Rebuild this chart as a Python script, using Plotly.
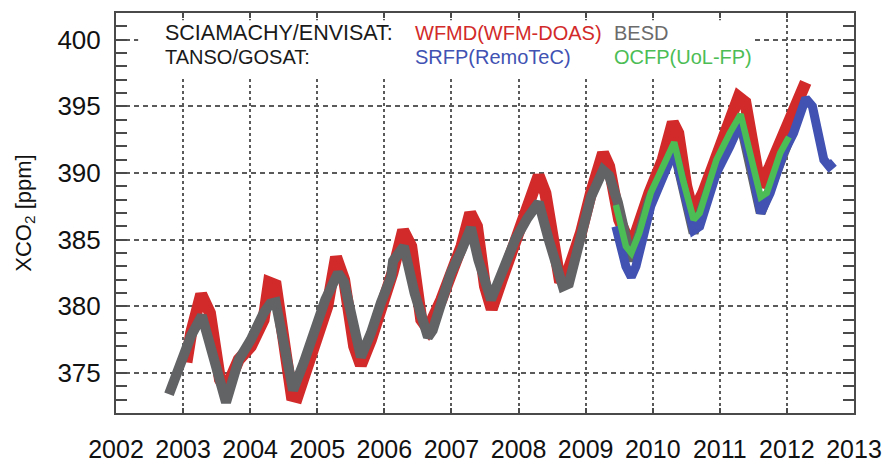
import plotly.graph_objects as go

# Monthly-ish XCO2 retrievals (decimal year, ppm)
besd_t = [2002.79, 2003.04, 2003.12, 2003.28, 2003.45, 2003.64, 2003.83, 2004.01, 2004.20, 2004.30,
          2004.38, 2004.50, 2004.64, 2004.80, 2004.95, 2005.12, 2005.31, 2005.40, 2005.65, 2005.80,
          2005.95, 2006.10, 2006.13, 2006.29, 2006.45, 2006.65, 2006.72, 2006.85, 2006.99, 2007.15,
          2007.29, 2007.40, 2007.59, 2007.75, 2007.95, 2008.13, 2008.30, 2008.45, 2008.66, 2008.75,
          2008.93, 2009.08, 2009.26, 2009.35, 2009.48, 2009.68, 2009.95, 2010.32, 2010.61, 2010.95,
          2011.31, 2011.61, 2012.03]
besd_v = [373.4, 377.0, 377.8, 379.3, 376.0, 372.8, 376.0, 377.5, 379.5, 380.2,
          380.3, 377.0, 373.7, 375.8, 378.0, 380.5, 382.5, 381.8, 376.2, 378.0,
          380.3, 382.2, 383.4, 384.5, 381.0, 377.7, 378.2, 380.5, 382.5, 384.2,
          385.9, 383.5, 380.5, 382.5, 385.0, 386.6, 387.8, 385.0, 381.5, 381.7,
          385.0, 388.2, 390.2, 389.8, 387.8, 383.4, 388.0, 391.8, 385.5, 390.5,
          393.8, 387.0, 392.5]

wfmd_t = [2003.05, 2003.12, 2003.27, 2003.40, 2003.55, 2003.64, 2003.83, 2004.01, 2004.20, 2004.28,
          2004.38, 2004.50, 2004.62, 2004.70, 2004.85, 2005.00, 2005.15, 2005.28, 2005.40, 2005.55,
          2005.65, 2005.80, 2005.95, 2006.12, 2006.28, 2006.40, 2006.55, 2006.65, 2006.85, 2007.00,
          2007.15, 2007.28, 2007.38, 2007.50, 2007.60, 2007.75, 2007.95, 2008.15, 2008.30, 2008.40,
          2008.55, 2008.62, 2008.75, 2008.93, 2009.08, 2009.26, 2009.35, 2009.50, 2009.65, 2009.75,
          2009.95, 2010.15, 2010.30, 2010.38, 2010.50, 2010.60, 2010.75, 2010.95, 2011.15, 2011.28,
          2011.38, 2011.50, 2011.60, 2011.75, 2011.95, 2012.10, 2012.28]
wfmd_v = [375.8, 378.0, 380.9, 379.5, 374.5, 373.8, 376.0, 377.0, 379.0, 381.8,
          381.6, 378.0, 373.3, 373.2, 375.5, 378.0, 380.0, 383.7, 382.0, 377.0,
          375.6, 377.5, 379.8, 382.5, 385.7, 384.5, 379.0, 378.3, 380.5, 382.5,
          384.5, 387.0, 386.0, 381.5, 379.8, 382.0, 385.0, 387.5, 389.8, 388.5,
          383.5, 381.8, 382.8, 385.5, 388.5, 391.5, 390.5, 386.5, 384.8, 385.5,
          388.5, 391.0, 393.8, 393.0, 389.0, 387.0, 388.5, 391.0, 393.5, 395.7,
          395.3, 391.0, 389.0, 390.5, 393.0, 394.5, 396.8]

srfp_t = [2009.45, 2009.60, 2009.68, 2009.75, 2009.97, 2010.15, 2010.32, 2010.45, 2010.61, 2010.70,
          2010.95, 2011.15, 2011.31, 2011.45, 2011.61, 2011.75, 2011.95, 2012.10, 2012.28, 2012.38,
          2012.55, 2012.63, 2012.70]
srfp_v = [386.0, 383.0, 382.2, 383.0, 387.5, 389.8, 391.7, 389.0, 385.7, 386.0,
          390.0, 392.0, 393.8, 391.0, 387.0, 388.5, 391.5, 393.0, 395.6, 395.0,
          391.0, 390.5, 390.8]

ocfp_t = [2009.45, 2009.60, 2009.68, 2009.80, 2009.97, 2010.15, 2010.32, 2010.45, 2010.61, 2010.70,
          2010.95, 2011.15, 2011.31, 2011.45, 2011.61, 2011.70, 2011.90, 2012.03]
ocfp_v = [387.6, 384.5, 384.0, 385.5, 388.5, 390.5, 392.3, 389.5, 386.5, 387.0,
          391.0, 393.0, 394.4, 391.5, 388.2, 388.5, 391.5, 392.7]

year_ticks = list(range(2002, 2014))
ppm_ticks = [375, 380, 385, 390, 395, 400]

RED = "#d22a2a"
GRAY = "#616365"
BLUE = "#4152b3"
GREEN = "#4cbd55"
AXIS = "#4a4a4a"
FONT = "Liberation Sans"

fig = go.Figure()
for t, v, col, w in [(wfmd_t, wfmd_v, RED, 12),
                     (besd_t, besd_v, GRAY, 10),
                     (srfp_t, srfp_v, BLUE, 9),
                     (ocfp_t, ocfp_v, GREEN, 6.5)]:
    fig.add_trace(go.Scatter(x=t, y=v, mode="lines",
                             line=dict(color=col, width=w),
                             showlegend=False, hoverinfo="skip"))

# white panel behind the product labels
fig.add_shape(type="rect", xref="paper", yref="paper",
              x0=0.03, x1=0.863, y0=0.8375, y1=0.982,
              fillcolor="white", line=dict(width=0), layer="above")

labels = [
    ("SCIAMACHY/ENVISAT:", 0.0637, 0.95, "#1a1a1a", 21.5),
    ("TANSO/GOSAT:", 0.0637, 0.89, "#1a1a1a", 20),
    ("WFMD(WFM-DOAS)", 0.4024, 0.95, RED, 20),
    ("BESD", 0.672, 0.95, "#6b6b6b", 20),
    ("SRFP(RemoTeC)", 0.4024, 0.89, BLUE, 20),
    ("OCFP(UoL-FP)", 0.672, 0.89, GREEN, 20),
]
for txt, x, y, col, sz in labels:
    fig.add_annotation(text=txt, x=x, y=y, xref="paper", yref="paper",
                       xanchor="left", yanchor="middle", showarrow=False,
                       font=dict(family=FONT, size=sz, color=col))

fig.update_xaxes(range=[2002, 2013], tickvals=year_ticks,
                 ticktext=[str(y) for y in year_ticks],
                 ticks="inside", ticklen=5, tickwidth=1.5, tickcolor=AXIS,
                 showline=True, linecolor=AXIS, linewidth=2, mirror="ticks",
                 showgrid=True, gridcolor="#5a5a5a", gridwidth=1.5, griddash="dot",
                 zeroline=False, ticklabelstandoff=13, automargin=False,
                 tickfont=dict(family=FONT, size=25, color="#111111"))
fig.update_yaxes(range=[372, 402], tickvals=ppm_ticks,
                 ticks="inside", ticklen=11, tickwidth=2, tickcolor=AXIS,
                 minor=dict(dtick=1, tick0=0, ticks="inside", ticklen=11,
                            tickwidth=2, tickcolor=AXIS, showgrid=False),
                 showline=True, linecolor=AXIS, linewidth=2, mirror="ticks",
                 showgrid=True, gridcolor="#5a5a5a", gridwidth=1.5, griddash="5px,4px",
                 zeroline=False, ticklabelstandoff=8, automargin=False,
                 tickfont=dict(family=FONT, size=26, color="#111111"),
                 title=dict(text="XCO<sub>2</sub> [ppm]", standoff=20,
                            font=dict(family=FONT, size=22, color="#111111")))

fig.update_layout(width=885, height=462,
                  margin=dict(l=116, r=31, t=13, b=49),
                  plot_bgcolor="white", paper_bgcolor="white")

fig.write_html("out.html")
